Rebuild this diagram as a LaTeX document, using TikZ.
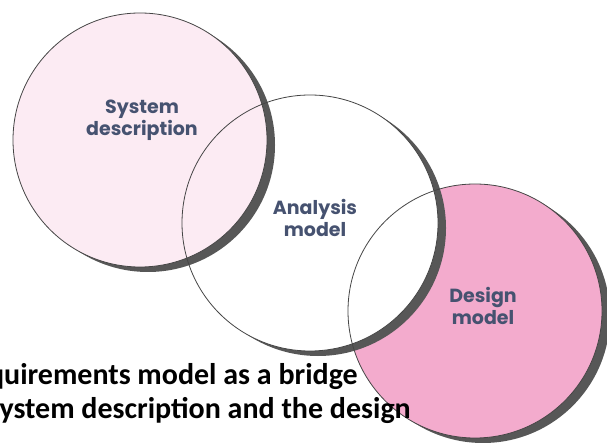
\documentclass[tikz,border=0pt]{standalone}
\usepackage{fontspec}
\setmainfont{Carlito}
\newfontfamily\labfont{Poppins}
\definecolor{shadowgray}{HTML}{575757}
\definecolor{ringgray}{HTML}{454545}
\definecolor{pinklight}{HTML}{FCEBF3}
\definecolor{pinkdark}{HTML}{F3ABCD}
\definecolor{labblue}{HTML}{465270}
\begin{document}
\begin{tikzpicture}[x=1pt,y=-1pt,
  shadowc/.style={fill=shadowgray},
  ring/.style={draw=ringgray, line width=0.8pt},
  lab/.style={font=\labfont\bfseries\fontsize{19}{22}\selectfont, text=labblue, align=center, inner sep=0pt},
  captxt/.style={font=\bfseries\fontsize{30}{34}\selectfont, anchor=base east, inner sep=0pt}]
\useasboundingbox (0,0) rectangle (607,443);
\clip (0,0) rectangle (607,443);
\coordinate (c1) at (140,140);
\coordinate (c2) at (310,223);
\coordinate (c3) at (475,311);
% design model circle
\fill[shadowc] ([shift={(8,5)}]c3) circle[radius=127];
\fill[pinkdark] (c3) circle[radius=127];
% analysis model circle
\fill[shadowc] ([shift={(8,5)}]c2) circle[radius=128];
\fill[white] (c2) circle[radius=128];
% system description circle
\fill[shadowc] ([shift={(8,5)}]c1) circle[radius=127];
\fill[pinklight] (c1) circle[radius=127];
% outlines
\draw[ring] (c3) circle[radius=127];
\draw[ring] (c2) circle[radius=128];
\draw[ring] (c1) circle[radius=127];
% labels
\node[lab] (sys) at (142,120) {System\\description};
\node[lab] (ana) at (315,218) {Analysis\\model};
\node[lab] (des) at (483,306) {Design\\model};
% caption (cropped at the left edge, as in the reference)
\node[captxt] (cap1) at (358,384) {The requirements model as a bridge};
\node[captxt] (cap2) at (411,418) {between the system description and the design};
\end{tikzpicture}
\end{document}
